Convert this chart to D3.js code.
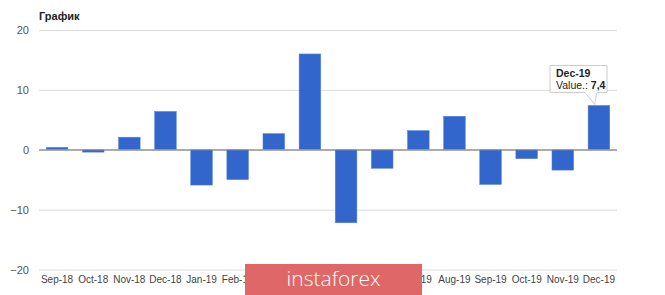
<!DOCTYPE html>
<html><head><meta charset="utf-8">
<script src="https://cdn.jsdelivr.net/npm/d3@7"></script>
<style>body{margin:0;background:#fff}svg{display:block;font-family:Arial,"Liberation Sans",sans-serif}</style>
</head><body><svg id="c" width="665" height="295"></svg>
<script>
const categories=["Sep-18","Oct-18","Nov-18","Dec-18","Jan-19","Feb-19","Mar-19","Apr-19","May-19","Jun-19","Jul-19","Aug-19","Sep-19","Oct-19","Nov-19","Dec-19"];
const values=[0.4,-0.4,2.1,6.4,-5.9,-5.0,2.7,16.0,-12.2,-3.1,3.2,5.6,-5.8,-1.5,-3.4,7.4];
const yTicks=[-20,-10,0,10,20];
const title="График";
const tipCategory="Dec-19", tipValueLabel="Value.: ", tipValueText="7,4";

const svg=d3.select("#c");
const L=39,R=617,T=30,B=269.5;
const x=d3.scaleBand().domain(categories).range([L,R]).paddingInner(0.4).paddingOuter(0.2);
const y=d3.scaleLinear().domain([-20,20]).range([B,T]);

svg.append("text").attr("x",39).attr("y",20).attr("font-size",11).attr("font-weight","bold").attr("fill","#222").text(title);

const ga=svg.append("g").attr("transform",`translate(${L},0)`)
 .call(d3.axisLeft(y).tickValues(yTicks).tickSize(-(R-L)).tickPadding(10));
ga.select(".domain").remove();
ga.selectAll(".tick line").attr("stroke",d=>d===0?"#999":"#ddd").attr("stroke-width",1);
ga.selectAll(".tick text").attr("font-size",11).attr("fill","#555").attr("font-family","Arial,'Liberation Sans',sans-serif");
// keep zero line on top later

svg.append("g").selectAll("rect").data(categories).join("rect")
 .attr("x",d=>x(d)).attr("width",x.bandwidth())
 .attr("y",(d,i)=>y(Math.max(0,values[i])))
 .attr("height",(d,i)=>Math.abs(y(values[i])-y(0)))
 .attr("fill","#3366cc").attr("stroke","#5b85d6").attr("stroke-width",0.5);

svg.append("line").attr("x1",L).attr("x2",R).attr("y1",y(0)).attr("y2",y(0)).attr("stroke","#999");

const gx=svg.append("g").attr("transform",`translate(0,${B})`).call(d3.axisBottom(x).tickSize(0).tickPadding(6));
gx.select(".domain").remove();
gx.selectAll(".tick text").attr("font-size",10).attr("fill","#444").attr("font-family","Arial,'Liberation Sans',sans-serif");

// tooltip
const tiX=categories.indexOf(tipCategory);
const bx=x(tipCategory)+x.bandwidth()*0.3, by=y(values[tiX]);
const tx=550, ty=65.5, tw=57, th=27;
const tip=svg.append("g");
tip.append("path").attr("d",`M${tx},${ty}H${tx+tw}V${ty+th}H${tx+tw-10}L${bx},${by-1}L${tx+tw-22},${ty+th}H${tx}Z`)
 .attr("fill","#fff").attr("stroke","#ccc").attr("stroke-width",1);
tip.append("text").attr("x",tx+6).attr("y",ty+11.5).attr("font-size",10.5).attr("font-weight","bold").attr("fill","#222").text(tipCategory);
const t2=tip.append("text").attr("x",tx+6).attr("y",ty+23.5).attr("font-size",10.5).attr("fill","#222");
t2.append("tspan").text(tipValueLabel);
t2.append("tspan").attr("font-weight","bold").text(tipValueText);

// watermark
const wm=svg.append("g");
wm.append("rect").attr("x",245).attr("y",264).attr("width",177).attr("height",31).attr("fill","#e06767");
wm.append("text").attr("x",333.5).attr("y",286).attr("text-anchor","middle").attr("font-size",21).attr("fill","#fff")
 .attr("font-family","'Open Sans','DejaVu Sans',sans-serif").attr("font-weight",300).text("instaforex");
</script></body></html>
